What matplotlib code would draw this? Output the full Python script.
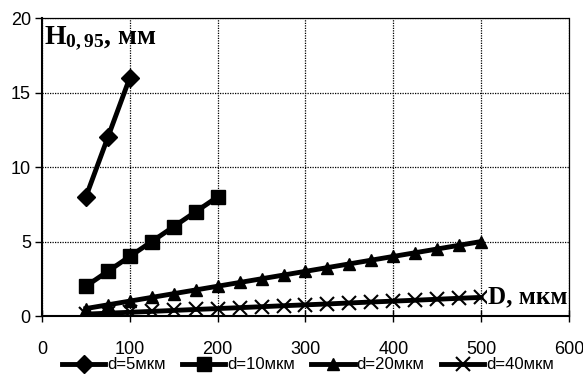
import matplotlib
matplotlib.use("Agg")
import matplotlib.pyplot as plt
from matplotlib import font_manager

plt.rcParams["mathtext.fontset"] = "custom"
plt.rcParams["mathtext.rm"] = "Liberation Serif:bold"
plt.rcParams["mathtext.bf"] = "Liberation Serif:bold"
plt.rcParams["mathtext.it"] = "Liberation Serif:bold"

names = {f.name for f in font_manager.fontManager.ttflist}
sans = "Liberation Sans Narrow" if "Liberation Sans Narrow" in names else "Liberation Sans"

# Data
x_d5 = [50, 75, 100]
y_d5 = [8.0, 12.0, 16.0]
x_d10 = [50, 75, 100, 125, 150, 175, 200]
y_d10 = [2.0, 3.0, 4.0, 5.0, 6.0, 7.0, 8.0]
x_d20 = [50, 75, 100, 125, 150, 175, 200, 225, 250, 275, 300, 325, 350, 375, 400, 425, 450, 475, 500]
y_d20 = [0.5, 0.75, 1.0, 1.25, 1.5, 1.75, 2.0, 2.25, 2.5, 2.75, 3.0, 3.25, 3.5, 3.75, 4.0, 4.25, 4.5, 4.75, 5.0]
x_d40 = x_d20
y_d40 = [0.125, 0.19, 0.25, 0.31, 0.375, 0.44, 0.5, 0.56, 0.625, 0.69, 0.75, 0.81, 0.875, 0.94, 1.0, 1.06, 1.125, 1.19, 1.25]
labels = ["d=5мкм", "d=10мкм", "d=20мкм", "d=40мкм"]
xticks = [0, 100, 200, 300, 400, 500, 600]
yticks = [0, 5, 10, 15, 20]

fig = plt.figure(figsize=(5.83, 3.78), dpi=100)
ax = fig.add_axes([0.072, 0.164, 0.904, 0.788])

lw = 3.5
ax.plot(x_d5, y_d5, color="black", lw=lw, marker="D", ms=9, label=labels[0], zorder=3)
ax.plot(x_d10, y_d10, color="black", lw=lw, marker="s", ms=10, label=labels[1], zorder=3)
ax.plot(x_d20, y_d20, color="black", lw=lw, marker="^", ms=9, label=labels[2], zorder=3)
ax.plot(x_d40, y_d40, color="black", lw=lw, marker="x", ms=10, mew=1.5, label=labels[3], zorder=3)

ax.set_xlim(0, 600)
ax.set_ylim(0, 20)
ax.set_xticks(xticks)
ax.set_yticks(yticks)
ax.grid(True, color="black", linestyle=(0, (1, 1)), linewidth=0.9)
for s in ["top", "right"]:
    ax.spines[s].set_linestyle((0, (1, 1)))
    ax.spines[s].set_linewidth(0.9)
for s in ["left", "bottom"]:
    ax.spines[s].set_linewidth(1.5)
ax.tick_params(axis="x", direction="inout", length=8, width=1, pad=14, labelsize=13)
ax.tick_params(axis="y", direction="out", length=5, width=1, pad=3, labelsize=13)
for lab in ax.get_xticklabels() + ax.get_yticklabels():
    lab.set_family(sans)

ax.text(2, 19.6, r"$\mathrm{H}_{\mathrm{0,95}}$, мм", fontsize=20, fontweight="bold",
        family="Liberation Serif", va="top", ha="left")
ax.text(598, 1.3, "D, мкм", fontsize=18, fontweight="bold", family="Liberation Serif",
        va="center", ha="right", bbox=dict(facecolor="white", edgecolor="none", pad=0.5))

fig.legend(loc="lower center", bbox_to_anchor=(0.528, -0.025), ncol=4, frameon=False,
           prop={"family": sans, "size": 12}, handlelength=2.6, handletextpad=0.1,
           columnspacing=1.0)

fig.savefig("out.png", dpi=100)
